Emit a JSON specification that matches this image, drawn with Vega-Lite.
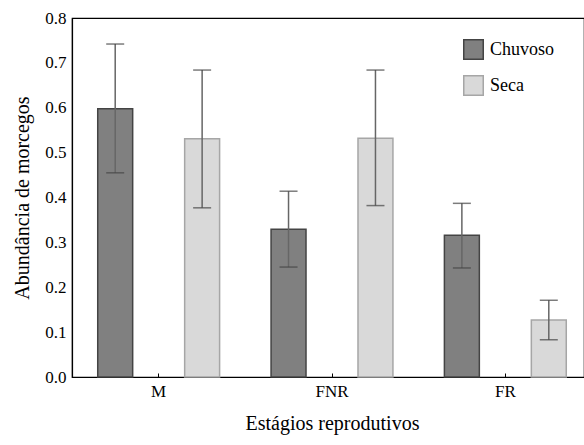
{
  "$schema": "https://vega.github.io/schema/vega-lite/v6.json",
  "autosize": {"type": "none"},
  "padding": {"left": 72, "top": 18, "right": 0, "bottom": 68},
  "width": 512,
  "height": 359,
  "background": "white",
  "config": {
    "font": "Liberation Serif",
    "view": {"stroke": "black", "strokeWidth": 1.2},
    "axis": {"labelFont": "Liberation Serif", "titleFont": "Liberation Serif", "labelColor": "black", "titleColor": "black", "domainColor": "black", "tickColor": "black", "titleFontWeight": "normal", "grid": false},
    "legend": {"labelFont": "Liberation Serif", "labelColor": "black"}
  },
  "data": {
    "values": [
      {"estagio": "M", "periodo": "Chuvoso", "media": 0.598, "lo": 0.455, "hi": 0.742},
      {"estagio": "M", "periodo": "Seca", "media": 0.531, "lo": 0.377, "hi": 0.684},
      {"estagio": "FNR", "periodo": "Chuvoso", "media": 0.329, "lo": 0.245, "hi": 0.414},
      {"estagio": "FNR", "periodo": "Seca", "media": 0.532, "lo": 0.382, "hi": 0.684},
      {"estagio": "FR", "periodo": "Chuvoso", "media": 0.316, "lo": 0.243, "hi": 0.387},
      {"estagio": "FR", "periodo": "Seca", "media": 0.127, "lo": 0.083, "hi": 0.171}
    ]
  },
  "resolve": {"axis": {"x": "independent"}},
  "layer": [
    {
      "mark": {"type": "bar", "strokeWidth": 1.5},
      "encoding": {
        "x": {
          "field": "estagio", "type": "nominal", "sort": ["M", "FNR", "FR"],
          "scale": {"range": [0, 520], "paddingInner": 0, "paddingOuter": 0},
          "axis": {"title": "Estágios reprodutivos", "labelFont": "Liberation Serif", "titleFont": "Liberation Serif", "labelAngle": 0, "labelFontSize": 17, "titleFontSize": 20, "labelPadding": 10, "titlePadding": 14, "tickSize": -4, "domainWidth": 1.2}
        },
        "xOffset": {
          "field": "periodo", "type": "nominal",
          "scale": {"paddingInner": 0.598, "paddingOuter": 0.296}
        },
        "y": {
          "field": "media", "type": "quantitative",
          "scale": {"domain": [0, 0.8], "nice": false},
          "axis": {"title": "Abundância de morcegos", "labelFont": "Liberation Serif", "titleFont": "Liberation Serif", "values": [0, 0.1, 0.2, 0.3, 0.4, 0.5, 0.6, 0.7, 0.8], "format": ".1f", "labelFontSize": 17, "titleFontSize": 20, "ticks": false, "labelPadding": 6, "titlePadding": 12, "domainWidth": 1.2}
        },
        "fill": {
          "field": "periodo", "type": "nominal",
          "scale": {"domain": ["Chuvoso", "Seca"], "range": ["#808080", "#d9d9d9"]},
          "legend": {"title": null, "orient": "none", "legendX": 391, "legendY": 21, "symbolType": "square", "symbolSize": 380, "symbolStrokeWidth": 1.5, "labelFontSize": 18, "rowPadding": 9, "labelOffset": 6}
        },
        "stroke": {
          "field": "periodo", "type": "nominal",
          "scale": {"domain": ["Chuvoso", "Seca"], "range": ["#444444", "#a6a6a6"]},
          "legend": null
        }
      }
    },
    {
      "mark": {"type": "bar", "color": "#666666", "width": 1.5},
      "encoding": {
        "x": {"field": "estagio", "type": "nominal", "sort": ["M", "FNR", "FR"],
          "axis": {"orient": "top", "labels": false, "ticks": false, "title": null, "domainWidth": 1.2, "domainColor": "black"}},
        "xOffset": {"field": "periodo", "type": "nominal"},
        "y": {"field": "lo", "type": "quantitative"},
        "y2": {"field": "hi"}
      }
    },
    {
      "mark": {"type": "tick", "color": "#444444", "thickness": 1.5, "size": 18},
      "encoding": {
        "x": {"field": "estagio", "type": "nominal", "sort": ["M", "FNR", "FR"], "axis": null},
        "xOffset": {"field": "periodo", "type": "nominal"},
        "y": {"field": "lo", "type": "quantitative"}
      }
    },
    {
      "mark": {"type": "tick", "color": "#444444", "thickness": 1.5, "size": 18},
      "encoding": {
        "x": {"field": "estagio", "type": "nominal", "sort": ["M", "FNR", "FR"], "axis": null},
        "xOffset": {"field": "periodo", "type": "nominal"},
        "y": {"field": "hi", "type": "quantitative"}
      }
    }
  ]
}
